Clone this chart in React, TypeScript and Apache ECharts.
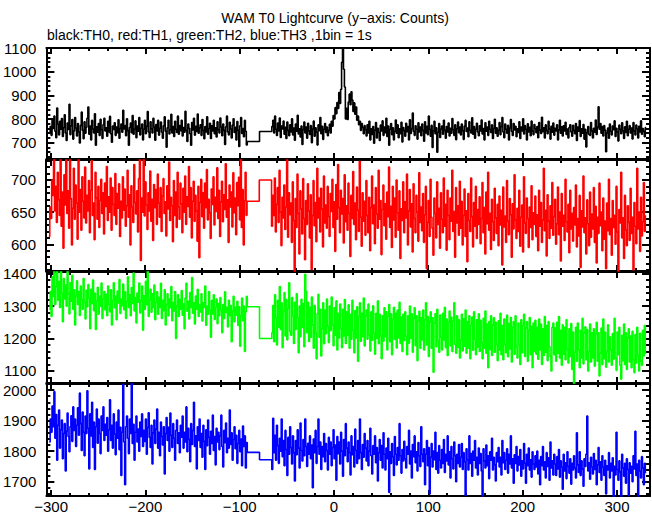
import React, { useEffect, useRef } from 'react';
import * as echarts from 'echarts';

// time grid (1 bin = 1 s)
const T_START_A = -302;
const T_GAP = [-92, -79];
const T_START_B = -66;

// ---------- TH0 (black) ----------
const th0A = [
742, 768, 731, 795, 760, 812, 748, 721, 846, 779, 733, 790, 757, 802, 726, 764, 818, 741, 709, 783,
756, 862, 734, 771, 798, 715, 749, 806, 762, 728, 781, 745, 699, 773, 829, 752, 717, 788, 740, 765,
803, 851, 736, 770, 712, 794, 758, 741, 822, 689, 767, 744, 781, 730, 799, 755, 718, 776, 803, 749,
763, 727, 790, 745, 811, 738, 702, 770, 756, 784, 731, 766, 742, 797, 719, 760, 779, 744, 837, 758,
772, 729, 801, 751, 689, 764, 783, 742, 815, 736, 757, 792, 721, 770, 748, 806, 733, 761, 779, 712,
757, 794, 738, 769, 832, 745, 722, 788, 759, 741, 803, 766, 710, 777, 750, 794, 732, 761, 787, 744,
719, 771, 809, 748, 681, 763, 795, 737, 754, 820, 741, 768, 726, 790, 757, 743, 812, 736, 772, 751,
795, 728, 764, 744, 833, 752, 705, 779, 761, 738, 689, 785, 754, 803, 732, 769, 747, 821, 740, 763,
776, 731, 798, 752, 717, 768, 745, 809, 736, 760, 782, 718, 771, 749, 795, 738, 763, 724, 788, 755,
741, 804, 766, 729, 779, 752, 692, 767, 812, 745, 733, 786, 758, 720, 774, 801, 743, 765, 711, 789,
752, 684, 771, 806, 739, 760, 725, 794, 748, 690
];
const th0Gap = [705, 747];
const th0B = [
768, 795, 741, 812, 757, 730, 783, 749, 804, 722, 770, 758, 791, 736, 765, 718, 787, 752, 729, 776,
745, 801, 733, 762, 710, 779, 748, 816, 737, 759, 724, 770, 692, 755, 787, 741, 766, 719, 782, 750,
735, 772, 700, 758, 791, 727, 763, 744, 690, 775, 751, 806, 738, 769, 714, 757, 781, 743, 766, 729,
752, 778, 741, 790, 770, 815, 800, 848, 822, 870, 845, 912, 866, 925, 1040, 1100, 1010, 935, 800, 845,
798, 872, 905, 860, 915, 880, 832, 868, 820, 851, 795, 812, 776, 790, 752, 781, 764, 738, 772, 755,
728, 776, 741, 790, 712, 759, 735, 768, 698, 752, 785, 720, 761, 743, 709, 774, 749, 792, 731, 766,
742, 803, 726, 770, 689, 757, 781, 734, 763, 712, 748, 796, 740, 775, 721, 759, 738, 786, 703, 764,
751, 727, 782, 746, 768, 712, 797, 739, 760, 825, 748, 731, 771, 757, 715, 784, 745, 766, 729, 779,
752, 706, 788, 741, 769, 734, 812, 756, 727, 773, 680, 749, 790, 738, 763, 660, 744, 781, 722, 758,
770, 736, 795, 752, 719, 768, 745, 783, 728, 761, 740, 802, 755, 731, 776, 713, 759, 787, 742, 766,
733, 779, 751, 714, 770, 794, 747, 762, 725, 788, 753, 741, 805, 736, 768, 719, 757, 782, 745, 729,
771, 750, 796, 737, 760, 712, 784, 748, 766, 731, 790, 757, 743, 775, 718, 760, 799, 740, 763, 727,
752, 785, 734, 768, 806, 745, 721, 779, 757, 740, 773, 711, 762, 798, 747, 730, 781, 754, 769, 725,
759, 743, 788, 718, 766, 750, 801, 737, 772, 756, 712, 780, 745, 765, 729, 791, 749, 734, 777, 760,
742, 768, 721, 785, 753, 739, 807, 746, 763, 720, 775, 751, 738, 790, 758, 715, 769, 744, 783, 732,
761, 749, 776, 712, 754, 795, 740, 767, 728, 771, 749, 786, 735, 758, 720, 764, 776, 745, 727, 773,
752, 738, 781, 709, 766, 748, 793, 726, 759, 740, 777, 715, 756, 682, 742, 768, 735, 731, 785, 750,
720, 761, 744, 796, 735, 766, 852, 757, 781, 740, 768, 728, 772, 753, 662, 741, 762, 719, 779, 748,
733, 770, 755, 792, 726, 761, 745, 707, 774, 756, 738, 784, 750, 718, 767, 743, 790, 729, 757, 772,
741, 762, 716, 785, 750, 733, 774, 758, 720, 769, 745, 792, 736, 760, 748, 725, 764
];

// ---------- TH1 (red) ----------
const th1A = [
612, 658, 640, 700, 676, 735, 652, 690, 634, 712, 669, 645, 740, 628, 681, 594, 708, 661, 737, 648,
683, 625, 742, 671, 599, 656, 718, 639, 692, 664, 608, 738, 650, 685, 622, 705, 667, 641, 720, 633,
676, 652, 699, 618, 684, 730, 645, 664, 607, 712, 672, 639, 690, 626, 668, 701, 648, 680, 616, 695,
659, 721, 637, 674, 650, 703, 622, 688, 662, 645, 710, 631, 679, 656, 694, 612, 667, 641, 705, 653,
686, 628, 660, 715, 642, 677, 599, 691, 658, 634, 724, 665, 647, 683, 619, 702, 740, 575, 672, 650,
738, 644, 697, 661, 623, 680, 652, 714, 636, 670, 606, 693, 657, 685, 631, 709, 664, 642, 688, 620,
675, 702, 648, 666, 613, 691, 655, 728, 637, 673, 660, 604, 699, 645, 681, 626, 712, 658, 639, 695,
663, 618, 687, 650, 706, 631, 674, 659, 721, 642, 688, 610, 667, 698, 636, 676, 652, 605, 690, 579,
665, 701, 643, 680, 625, 695, 657, 716, 638, 670, 649, 609, 686, 662, 705, 630, 673, 651, 719, 640,
684, 612, 666, 698, 635, 677, 654, 725, 642, 669, 603, 692, 658, 681, 627, 711, 649, 672, 615, 696,
660, 704, 638, 735, 626, 685, 599, 668, 712, 645
];
const th1Gap = [667, 700];
const th1B = [
628, 676, 645, 703, 619, 662, 688, 634, 715, 650, 598, 673, 641, 692, 623, 658, 735, 611, 680, 646,
664, 603, 697, 637, 558, 671, 626, 709, 648, 585, 683, 655, 616, 702, 640, 576, 668, 631, 694, 652,
610, 677, 561, 645, 699, 629, 665, 604, 718, 641, 672, 619, 687, 655, 596, 706, 633, 661, 625, 690,
643, 612, 679, 651, 701, 626, 666, 589, 693, 639, 724, 657, 618, 684, 647, 671, 602, 708, 635, 660,
622, 695, 648, 581, 676, 640, 713, 631, 664, 607, 689, 653, 620, 729, 642, 597, 680, 636, 667, 614,
699, 645, 618, 673, 590, 657, 706, 632, 661, 601, 688, 647, 625, 715, 639, 668, 584, 654, 692, 629,
663, 608, 681, 643, 720, 626, 659, 595, 690, 638, 672, 611, 700, 649, 622, 683, 578, 655, 637, 697,
618, 666, 641, 709, 599, 652, 685, 627, 663, 588, 694, 640, 618, 676, 650, 605, 711, 634, 658, 621,
679, 603, 646, 690, 562, 634, 668, 612, 701, 642, 625, 583, 672, 648, 610, 697, 631, 656, 594, 680,
639, 618, 703, 628, 662, 591, 684, 645, 607, 672, 636, 715, 620, 651, 580, 688, 633, 660, 614, 698,
625, 667, 599, 645, 686, 612, 652, 573, 679, 637, 620, 703, 643, 596, 665, 628, 690, 609, 654, 631,
674, 601, 640, 696, 618, 657, 585, 681, 632, 712, 622, 648, 592, 670, 635, 606, 687, 641, 617, 662,
598, 675, 630, 653, 568, 689, 627, 644, 603, 699, 636, 615, 671, 646, 580, 663, 624, 708, 638, 609,
656, 620, 684, 597, 642, 661, 588, 705, 633, 617, 672, 640, 595, 658, 626, 691, 607, 649, 631, 675,
612, 646, 590, 684, 628, 665, 603, 638, 718, 621, 653, 582, 677, 636, 609, 660, 625, 696, 614, 643,
670, 600, 632, 689, 615, 650, 574, 679, 628, 645, 606, 701, 635, 619, 662, 587, 684, 624, 648, 605,
657, 630, 692, 596, 640, 613, 676, 564, 652, 627, 706, 618, 641, 585, 669, 632, 598, 681, 611, 647,
624, 688, 603, 659, 571, 642, 617, 695, 629, 650, 590, 672, 608, 636, 562, 664, 621, 701, 615, 640,
583, 668, 626, 645, 600, 690, 619, 558, 654, 633, 712, 610, 641, 578, 676, 622, 598, 660, 634, 606,
687, 617, 642, 560, 665, 628, 601, 718, 624, 650, 589, 673, 613, 635, 696, 620, 644
];

// ---------- TH2 (green) ----------
const th2A = [
1290, 1345, 1268, 1390, 1330, 1412, 1305, 1360, 1420, 1318, 1375, 1296, 1415, 1340, 1252, 1385, 1322, 1365, 1300, 1410,
1338, 1276, 1372, 1315, 1395, 1290, 1350, 1242, 1330, 1378, 1305, 1345, 1271, 1362, 1320, 1290, 1385, 1312, 1260, 1349,
1298, 1366, 1325, 1230, 1352, 1308, 1380, 1286, 1340, 1228, 1315, 1358, 1275, 1330, 1300, 1371, 1262, 1322, 1345, 1288,
1336, 1270, 1362, 1305, 1283, 1350, 1242, 1318, 1372, 1295, 1330, 1258, 1346, 1310, 1382, 1277, 1322, 1301, 1368, 1289,
1344, 1262, 1315, 1390, 1296, 1335, 1270, 1357, 1308, 1402, 1285, 1326, 1248, 1340, 1312, 1371, 1279, 1318, 1362, 1226,
1332, 1290, 1376, 1304, 1412, 1268, 1320, 1352, 1281, 1338, 1296, 1365, 1258, 1311, 1344, 1275, 1327, 1296, 1370, 1262,
1318, 1286, 1350, 1242, 1305, 1338, 1270, 1322, 1295, 1360, 1255, 1312, 1285, 1345, 1200, 1301, 1335, 1268, 1320, 1290,
1348, 1272, 1306, 1230, 1325, 1370, 1284, 1315, 1260, 1342, 1296, 1388, 1278, 1310, 1245, 1331, 1290, 1352, 1268, 1305,
1282, 1338, 1254, 1310, 1296, 1362, 1241, 1300, 1275, 1345, 1288, 1204, 1318, 1276, 1335, 1259, 1297, 1322, 1246, 1308,
1270, 1326, 1288, 1218, 1305, 1262, 1344, 1280, 1296, 1236, 1318, 1270, 1302, 1190, 1285, 1330, 1252, 1296, 1272, 1315,
1240, 1298, 1176, 1270, 1325, 1255, 1300, 1160, 1282, 1330
];
const th2Gap = [1298, 1200];
const th2B = [
1218, 1302, 1190, 1335, 1265, 1180, 1318, 1235, 1360, 1228, 1310, 1172, 1285, 1342, 1208, 1320, 1196, 1293, 1372, 1222,
1210, 1326, 1270, 1185, 1312, 1228, 1338, 1264, 1156, 1300, 1206, 1321, 1234, 1308, 1175, 1398, 1345, 1218, 1312, 1191,
1296, 1204, 1328, 1242, 1170, 1302, 1218, 1138, 1277, 1336, 1204, 1290, 1146, 1230, 1310, 1184, 1288, 1215, 1322, 1238,
1188, 1300, 1225, 1328, 1242, 1178, 1295, 1210, 1316, 1165, 1278, 1202, 1306, 1230, 1172, 1290, 1208, 1320, 1185, 1282,
1210, 1304, 1170, 1275, 1198, 1318, 1225, 1156, 1286, 1202, 1298, 1130, 1268, 1310, 1192, 1278, 1206, 1325, 1177, 1270,
1288, 1198, 1306, 1211, 1162, 1282, 1195, 1301, 1216, 1152, 1278, 1200, 1316, 1184, 1275, 1208, 1138, 1270, 1192, 1295,
1206, 1282, 1165, 1268, 1305, 1190, 1276, 1150, 1260, 1296, 1198, 1278, 1171, 1288, 1202, 1312, 1185, 1266, 1160, 1275,
1194, 1282, 1208, 1150, 1270, 1186, 1300, 1200, 1276, 1158, 1262, 1295, 1178, 1270, 1132, 1256, 1284, 1170, 1265, 1196,
1288, 1165, 1258, 1310, 1180, 1268, 1145, 1252, 1282, 1170, 1264, 1096, 1248, 1276, 1175, 1290, 1194, 1158, 1272, 1204,
1165, 1278, 1196, 1296, 1172, 1260, 1148, 1250, 1285, 1178, 1266, 1160, 1255, 1310, 1182, 1155, 1270, 1173, 1258, 1140,
1196, 1275, 1162, 1260, 1176, 1288, 1155, 1252, 1170, 1270, 1138, 1240, 1266, 1164, 1282, 1198, 1150, 1258, 1174, 1276,
1160, 1256, 1188, 1138, 1262, 1170, 1285, 1155, 1245, 1110, 1252, 1166, 1270, 1148, 1242, 1264, 1158, 1250, 1182, 1132,
1255, 1165, 1278, 1150, 1240, 1135, 1260, 1182, 1156, 1272, 1144, 1246, 1168, 1265, 1128, 1235, 1252, 1152, 1270, 1175,
1140, 1248, 1180, 1120, 1258, 1156, 1240, 1275, 1145, 1232, 1252, 1130, 1225, 1265, 1150, 1238, 1110, 1248, 1160, 1256,
1152, 1235, 1136, 1260, 1165, 1245, 1120, 1230, 1148, 1268, 1158, 1240, 1132, 1252, 1175, 1145, 1100, 1235, 1248, 1150,
1232, 1130, 1250, 1155, 1268, 1140, 1225, 1118, 1242, 1152, 1235, 1135, 1258, 1168, 1125, 1230, 1145, 1246, 1105, 1220,
1060, 1158, 1235, 1130, 1248, 1165, 1110, 1225, 1140, 1262, 1122, 1218, 1236, 1135, 1228, 1100, 1160, 1245, 1128, 1218,
1140, 1230, 1115, 1215, 1250, 1130, 1218, 1085, 1155, 1232, 1120, 1260, 1138, 1220, 1112, 1160, 1242, 1128, 1205, 1165,
1118, 1215, 1136, 1262, 1140, 1102, 1220, 1150, 1235, 1118, 1075, 1210, 1132, 1245, 1120, 1218, 1105, 1202, 1230, 1128,
1208, 1110, 1222, 1135, 1095, 1212, 1125, 1235, 1148, 1100, 1216, 1130, 1118, 1225, 1146, 1240, 1155
];

// ---------- TH3 (blue) ----------
const th3A = [
1830, 1905, 1862, 1948, 1880, 1995, 1842, 1920, 1770, 1885, 1935, 1810, 1870, 1902, 1775, 1858, 1890, 1735, 1866, 1925,
1848, 1798, 1880, 1916, 1832, 1945, 1868, 1905, 1815, 1885, 1942, 1852, 1990, 1890, 1802, 1928, 1862, 1785, 1915, 1858,
1998, 1875, 1742, 1922, 1850, 1960, 1812, 1895, 1740, 1880, 1938, 1826, 1905, 1858, 1792, 1915, 1868, 1945, 1835, 1888,
1852, 1910, 1800, 1870, 1968, 1835, 1885, 1810, 1922, 1856, 1788, 1895, 1842, 1935, 1805, 1878, 1720, 1862, 2020, 1830,
1690, 1880, 1915, 1842, 1792, 1905, 1858, 2025, 1825, 1888, 1770, 1862, 1915, 1830, 1872, 1800, 1895, 1848, 1922, 1815,
1868, 1832, 1905, 1790, 1878, 1926, 1845, 1812, 1885, 1758, 1860, 1902, 1825, 1872, 1938, 1810, 1862, 1785, 1895, 1848,
1820, 1880, 1725, 1858, 1910, 1835, 1878, 1800, 1925, 1852, 1812, 1890, 1842, 1770, 1868, 1902, 1825, 1860, 1795, 1885,
1846, 1915, 1810, 1862, 1830, 1945, 1798, 1875, 1838, 1765, 1890, 1822, 1868, 1960, 1815, 1850, 1742, 1880, 1835, 1905,
1812, 1858, 1780, 1885, 1832, 1740, 1870, 1818, 1902, 1845, 1790, 1865, 1825, 1918, 1802, 1848, 1755, 1875, 1830, 1862,
1805, 1850, 1918, 1815, 1748, 1868, 1828, 1892, 1795, 1842, 1810, 1935, 1822, 1860, 1770, 1838, 1880, 1808, 1852, 1760,
1825, 1868, 1798, 1840, 1752, 1882, 1815, 1850, 1745, 1828
];
const th3Gap = [1796, 1772];
const th3B = [
1740, 1908, 1795, 1852, 1770, 1885, 1818, 1760, 1842, 1800, 1905, 1782, 1835, 1752, 1868, 1805, 1720, 1845, 1790, 1880,
1812, 1758, 1850, 1795, 1702, 1835, 1788, 1870, 1810, 1745, 1892, 1802, 1768, 1838, 1785, 1905, 1815, 1750, 1826, 1790,
1850, 1775, 1820, 1680, 1840, 1795, 1868, 1760, 1815, 1905, 1790, 1830, 1740, 1815, 1782, 1858, 1765, 1825, 1802, 1738,
1845, 1790, 1830, 1752, 1812, 1870, 1775, 1820, 1705, 1848, 1792, 1830, 1758, 1862, 1800, 1718, 1838, 1785, 1890, 1810,
1765, 1830, 1795, 1722, 1850, 1788, 1815, 1748, 1872, 1802, 1760, 1835, 1775, 1905, 1795, 1740, 1822, 1780, 1858, 1810,
1768, 1835, 1752, 1800, 1875, 1785, 1725, 1818, 1790, 1850, 1762, 1812, 1702, 1795, 1838, 1770, 1818, 1745, 1860, 1790,
1738, 1810, 1775, 1842, 1665, 1798, 1760, 1825, 1782, 1720, 1848, 1790, 1755, 1812, 1770, 1890, 1785, 1728, 1805, 1768,
1832, 1775, 1745, 1815, 1790, 1868, 1758, 1800, 1712, 1822, 1782, 1850, 1762, 1798, 1735, 1828, 1785, 1750, 1880, 1790,
1765, 1808, 1690, 1790, 1835, 1752, 1812, 1660, 1780, 1825, 1748, 1800, 1772, 1862, 1740, 1795, 1728, 1818, 1770, 1745,
1805, 1760, 1838, 1730, 1790, 1768, 1850, 1755, 1798, 1712, 1815, 1775, 1742, 1830, 1785, 1700, 1790, 1760, 1822, 1748,
1780, 1825, 1740, 1795, 1765, 1655, 1808, 1772, 1738, 1850, 1760, 1792, 1718, 1800, 1770, 1835, 1745, 1780, 1722, 1810,
1760, 1792, 1735, 1650, 1808, 1768, 1745, 1820, 1752, 1785, 1710, 1798, 1770, 1842, 1738, 1780, 1755, 1702, 1795, 1765,
1812, 1748, 1780, 1722, 1835, 1762, 1795, 1740, 1770, 1808, 1728, 1790, 1758, 1850, 1745, 1775, 1695, 1788, 1760, 1815,
1735, 1782, 1755, 1805, 1718, 1768, 1742, 1825, 1760, 1695, 1790, 1752, 1810, 1738, 1772, 1715, 1798, 1758, 1740, 1785,
1748, 1800, 1725, 1770, 1690, 1782, 1752, 1815, 1738, 1765, 1712, 1795, 1750, 1778, 1705, 1830, 1745, 1768, 1722, 1790,
1758, 1720, 1782, 1742, 1805, 1715, 1768, 1748, 1675, 1790, 1735, 1762, 1710, 1798, 1750, 1728, 1775, 1692, 1760, 1738,
1785, 1745, 1712, 1860, 1755, 1730, 1798, 1720, 1768, 1742, 1685, 1775, 1750, 1790, 1915, 1735, 1762, 1708, 1780, 1748,
1725, 1792, 1740, 1770, 1690, 1755, 1812, 1730, 1765, 1705, 1785, 1748, 1720, 1770, 1660, 1752, 1738, 1795, 1712, 1760,
1735, 1778, 1650, 1750, 1722, 1862, 1740, 1705, 1768, 1732, 1650, 1790, 1745, 1718, 1760, 1695, 1775, 1740, 1655, 1762,
1728, 1750, 1700, 1785, 1742, 1865, 1720, 1758, 1650, 1770, 1735, 1712, 1782, 1745, 1690, 1760, 1730
];

// ---------- axes ----------
const X_MIN = -305;
const X_MAX = 335;
const xMajorTicks = [-300, -200, -100, 0, 100, 200, 300];
const xMinorStep = 20;
const yRanges = [[631, 1100], [558.5, 731], [1063, 1405], [1653, 2020]];
const yMajorTicks = [
  [700, 800, 900, 1000, 1100],
  [600, 650, 700],
  [1100, 1200, 1300, 1400],
  [1700, 1800, 1900, 2000],
];
const yMinorSteps = [20, 10, 20, 20];
const COLORS = ['#000000', '#ff0000', '#00ff00', '#0000ff'];
const TITLE = 'WAM T0 Lightcurve (y\u2212axis: Counts)';
const SUBTITLE = 'black:TH0, red:TH1, green:TH2, blue:TH3 ,1bin = 1s';

const PANELS = [
  { a: th0A, gap: th0Gap, b: th0B },
  { a: th1A, gap: th1Gap, b: th1B },
  { a: th2A, gap: th2Gap, b: th2B },
  { a: th3A, gap: th3Gap, b: th3B },
];

const GRID_TOPS = [48, 160, 272, 384];
const GRID_HEIGHTS = [111, 111, 111, 112];
const FONT = '"Liberation Sans", Arial, Helvetica, sans-serif';

function minorTicks(min: number, max: number, step: number, majors: number[]) {
  const out: number[] = [];
  for (let v = Math.ceil(min / step) * step; v <= max; v += step) {
    if (!majors.includes(v)) out.push(v);
  }
  return out;
}

function buildPoints(a: number[], gap: number[], b: number[]) {
  const pts: number[][] = [];
  a.forEach((v, i) => pts.push([T_START_A + i, v]));
  pts.push([T_GAP[0], gap[0]]);
  pts.push([T_GAP[1], gap[1]]);
  b.forEach((v, i) => pts.push([T_START_B + i, v]));
  pts.push([T_START_B + b.length, b[b.length - 1]]);
  return pts;
}

export default function App() {
  const ref = useRef<HTMLDivElement>(null);
  useEffect(() => {
    if (!ref.current) return;
    const chart = echarts.init(ref.current, null, { renderer: 'svg' });
    const grids: any[] = [];
    const xAxes: any[] = [];
    const yAxes: any[] = [];
    const series: any[] = [];
    const xMinor = minorTicks(X_MIN, X_MAX, xMinorStep, xMajorTicks);

    PANELS.forEach((p, i) => {
      grids.push({ left: 46, right: 2, top: GRID_TOPS[i], height: GRID_HEIGHTS[i], containLabel: false });
      const [ymin, ymax] = yRanges[i];
      const yMinor = minorTicks(ymin, ymax, yMinorSteps[i], yMajorTicks[i]);
      const mkX = (pos: string, ticks: number[], len: number, line: boolean, label: boolean) => ({
        type: 'value', gridIndex: i, min: X_MIN, max: X_MAX, position: pos,
        axisLine: { show: line, onZero: false, lineStyle: { color: '#000', width: 2 } },
        axisTick: { show: true, inside: true, length: len, customValues: ticks, lineStyle: { color: '#000', width: 2 } },
        axisLabel: label
          ? { show: true, customValues: ticks, margin: 3, fontSize: 15, fontFamily: FONT, color: '#000',
              formatter: (v: number) => String(v).replace('-', '\u2212') }
          : { show: false },
        splitLine: { show: false },
      });
      const mkY = (pos: string, ticks: number[], len: number, line: boolean, label: boolean) => ({
        type: 'value', gridIndex: i, min: ymin, max: ymax, position: pos,
        axisLine: { show: line, onZero: false, lineStyle: { color: '#000', width: 2 } },
        axisTick: { show: true, inside: true, length: len, customValues: ticks, lineStyle: { color: '#000', width: 2 } },
        axisLabel: label
          ? { show: true, customValues: ticks, margin: 10, fontSize: 15, fontFamily: FONT, color: '#000',
              formatter: (v: number) => String(v) }
          : { show: false },
        splitLine: { show: false },
      });
      xAxes.push(mkX('bottom', xMajorTicks, 6, true, i === 3));
      xAxes.push(mkX('bottom', xMinor, 3, false, false));
      xAxes.push(mkX('top', xMajorTicks, 6, true, false));
      xAxes.push(mkX('top', xMinor, 3, false, false));
      yAxes.push(mkY('left', yMajorTicks[i], 8, true, true));
      yAxes.push(mkY('left', yMinor, 4, false, false));
      yAxes.push(mkY('right', yMajorTicks[i], 8, true, false));
      yAxes.push(mkY('right', yMinor, 4, false, false));

      series.push({
        type: 'line', xAxisIndex: i * 4, yAxisIndex: i * 4,
        data: buildPoints(p.a, p.gap, p.b),
        step: 'end', symbol: 'none', showSymbol: false, clip: true,
        lineStyle: { color: COLORS[i], width: 1.6 },
        itemStyle: { color: COLORS[i] },
      });
    });

    chart.setOption({
      animation: false,
      backgroundColor: '#ffffff',
      grid: grids,
      xAxis: xAxes,
      yAxis: yAxes,
      series,
      graphic: [
        { type: 'text', x: 335, y: 18, style: { text: TITLE, font: `14px ${FONT}`, fill: '#000', textAlign: 'center', textVerticalAlign: 'middle' } },
        { type: 'text', x: 47, y: 35, style: { text: SUBTITLE, font: `14px ${FONT}`, fill: '#000', textAlign: 'left', textVerticalAlign: 'middle' } },
      ],
    });
    return () => chart.dispose();
  }, []);
  return <div ref={ref} style={{ position: 'fixed', left: 0, top: 0, width: 652, height: 515 }} />;
}
